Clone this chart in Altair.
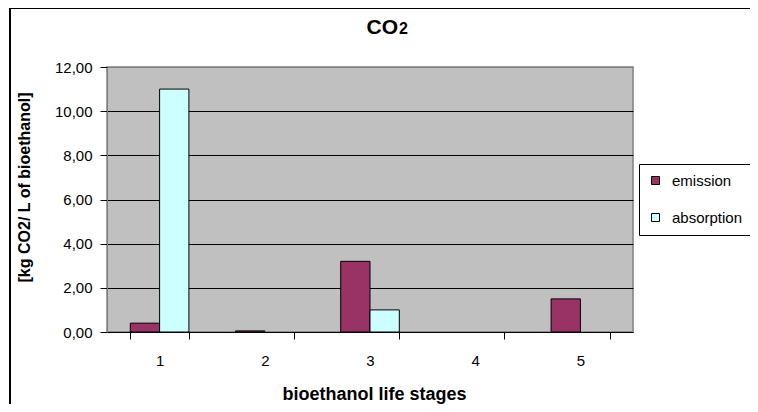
import altair as alt
import pandas as pd

stages = ["1", "2", "3", "4", "5"]
emission = [0.40, 0.05, 3.20, 0.0, 1.50]
absorption = [11.0, 0.0, 1.0, 0.0, 0.0]
series = ["emission", "absorption"]
colors = ["#993366", "#CCFFFF"]
y_ticks = [0, 2, 4, 6, 8, 10, 12]
title_main = "CO"
title_sub = "2"
y_title = "[kg CO2/ L of bioethanol]"
x_title = "bioethanol life stages"

rows = []
for s, e, a in zip(stages, emission, absorption):
    rows.append({"stage": s, "series": "emission", "value": e})
    rows.append({"stage": s, "series": "absorption", "value": a})
df = pd.DataFrame(rows)

FONT = "Liberation Sans"

bars = alt.Chart(df).transform_filter("datum.value > 0").mark_bar(
    stroke="black", strokeWidth=1
).encode(
    x=alt.X(
        "stage:N", sort=stages,
        scale=alt.Scale(domain=stages, paddingInner=0.443, paddingOuter=0.2215),
        axis=alt.Axis(
            title=x_title, labelAngle=0, tickBand="extent", grid=False,
            domainColor="black", tickColor="black", tickSize=7,
            labelPadding=14, labelFontSize=15, labelColor="black", labelFont=FONT,
            titleFontSize=18, titleFontWeight="bold", titleFont=FONT,
            titleX=267, titleY=67, titleBaseline="alphabetic", titleAlign="center",
            titleColor="black",
        ),
    ),
    xOffset=alt.XOffset("series:N", sort=series, scale=alt.Scale(domain=series)),
    y=alt.Y(
        "value:Q",
        scale=alt.Scale(domain=[0, 12], nice=False),
        axis=alt.Axis(
            values=y_ticks,
            labelExpr="replace(format(datum.value, '.2f'), '.', ',')",
            grid=True,
            gridColor={"condition": {"test": "datum.value === 12", "value": "#808080"}, "value": "#000000"},
            gridWidth=1,
            domainColor="#808080", tickColor="black", tickSize=7, labelPadding=8,
            labelFontSize=15, labelColor="black", labelFont=FONT,
            title=y_title, titleFontSize=16, titleFontWeight="bold", titleFont=FONT,
            titleColor="black", titleAngle=270, titleX=-83, titleY=120,
            titleAlign="center", titleBaseline="middle",
        ),
    ),
    color=alt.Color(
        "series:N", sort=series,
        scale=alt.Scale(domain=series, range=colors),
        legend=alt.Legend(
            title=None, orient="none", legendX=532, legendY=97,
            strokeColor="black", fillColor="white", padding=9,
            labelFontSize=15, labelFont=FONT, labelColor="black",
            symbolType="square", symbolSize=64, symbolStrokeColor="black",
            symbolStrokeWidth=1, labelOffset=9, rowPadding=21,
        ),
    ),
)

one = pd.DataFrame({"a": [0]})

rule_top = alt.Chart(one).mark_rule(color="black", strokeWidth=2).encode(
    x=alt.value(-97), x2=alt.value(700), y=alt.value(-59)
)
rule_left = alt.Chart(one).mark_rule(color="black", strokeWidth=2).encode(
    x=alt.value(-97), y=alt.value(-60), y2=alt.value(400)
)

t_main = alt.Chart(one).mark_text(
    text=title_main, fontSize=21, fontWeight="bold", font=FONT,
    align="right", baseline="alphabetic", color="black"
).encode(x=alt.value(291), y=alt.value(-33))
t_sub = alt.Chart(one).mark_text(
    text=title_sub, fontSize=16, fontWeight="bold", font=FONT,
    align="left", baseline="alphabetic", color="black"
).encode(x=alt.value(292), y=alt.value(-33))

chart = alt.layer(bars, rule_top, rule_left, t_main, t_sub).properties(
    width=526, height=265,
    autosize=alt.AutoSizeParams(type="none"),
    padding={"left": 99, "top": 59, "right": 117, "bottom": 72},
).configure_view(fill="#C0C0C0", stroke="#808080", strokeWidth=1.5)

chart.save("out.html", embed_options={"renderer": "svg", "actions": False})
